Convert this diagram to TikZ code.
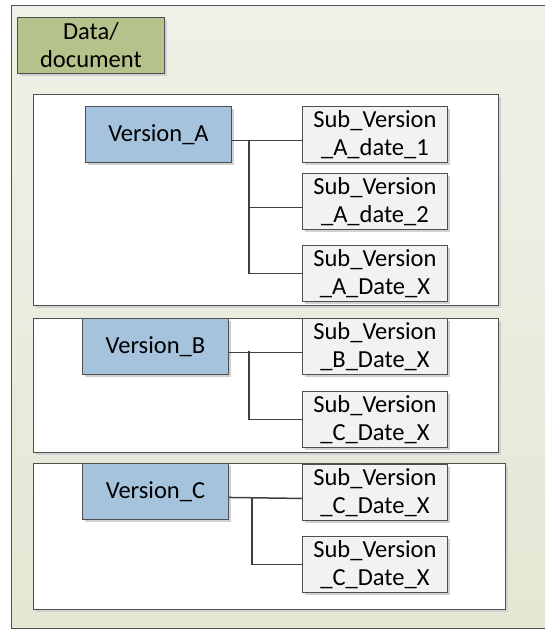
\documentclass[tikz,border=0pt]{standalone}
\usepackage{fontspec}
\setmainfont{Carlito}
\usetikzlibrary{shadows}
\definecolor{frameline}{HTML}{4F4F4F}
\definecolor{bgtop}{HTML}{EFF1E8}
\definecolor{bgbot}{HTML}{E3E8D4}
\definecolor{olivefill}{HTML}{B6C28B}
\definecolor{bluefill}{HTML}{A6C3DD}
\definecolor{subfill}{HTML}{F2F2F2}
\definecolor{connline}{HTML}{404040}
\begin{document}
\begin{tikzpicture}[x=1pt,y=-1pt,
  font=\fontsize{24.5}{28}\selectfont,
  softshadow/.style={drop shadow={shadow xshift=3pt,shadow yshift=-3pt,fill=black!18,opacity=1}},
  box/.style={draw=frameline,line width=0.9pt,rectangle,anchor=north west,inner sep=0pt,align=center,softshadow},
  groupbox/.style={box,fill=white},
  titlebox/.style={box,fill=olivefill,minimum width=147pt,minimum height=56pt},
  verbox/.style={box,fill=bluefill,minimum width=146pt,minimum height=56pt},
  subbox/.style={box,fill=subfill,minimum width=145pt,minimum height=56pt},
  conn/.style={draw=connline,line width=1.5pt}]
\useasboundingbox (0,0) rectangle (545,630);

% background panel
\shade[top color=bgtop,bottom color=bgbot] (11,5) rectangle (546,628);
\draw[frameline,line width=0.9pt] (546,5) -- (11,5) -- (11,628) -- (546,628);

% title
\node[titlebox] (title) at (17,17) {Data/\\document};

% group containers
\node[groupbox,minimum width=465pt,minimum height=211pt] (ga) at (33,94) {};
\node[groupbox,minimum width=465pt,minimum height=134pt] (gb) at (33,318) {};
\node[groupbox,minimum width=472pt,minimum height=146pt] (gc) at (33,463) {};

% group A
\node[verbox] (va) at (85,106) {Version\_A};
\node[subbox] (a1) at (302,106) {Sub\_Version\\\_A\_date\_1};
\node[subbox] (a2) at (302,173) {Sub\_Version\\\_A\_date\_2};
\node[subbox] (ax) at (302,245) {Sub\_Version\\\_A\_Date\_X};
\coordinate (ja) at (249,140);
\draw[conn] ([yshift=-6pt]va.east) -- ([yshift=-6pt]a1.west);
\draw[conn] (ja) |- ([yshift=-6pt]a2.west);
\draw[conn] (ja) |- (ax.west);

% group B
\node[verbox] (vb) at (82,318) {Version\_B};
\node[subbox] (b1) at (302,318) {Sub\_Version\\\_B\_Date\_X};
\node[subbox] (b2) at (302,391) {Sub\_Version\\\_C\_Date\_X};
\coordinate (jb) at (249,351);
\draw[conn] ([yshift=-6pt]vb.east) -- ([yshift=-6pt]b1.west);
\draw[conn] (jb) |- (b2.west);

% group C
\node[verbox] (vc) at (82,463) {Version\_C};
\node[subbox] (c1) at (302,464) {Sub\_Version\\\_C\_Date\_X};
\node[subbox] (c2) at (302,536) {Sub\_Version\\\_C\_Date\_X};
\coordinate (jc) at (252,497);
\draw[conn] ([yshift=-6pt]vc.east) -- ([yshift=-6pt]c1.west);
\draw[conn] (jc) |- (c2.west);
\end{tikzpicture}
\end{document}
